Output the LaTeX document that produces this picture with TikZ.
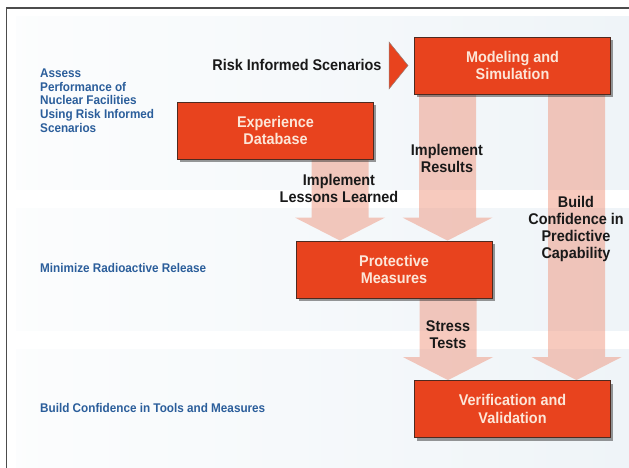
\documentclass[tikz,border=0pt]{standalone}
\usepackage{fontspec}
\setmainfont{Liberation Sans}[FakeStretch=0.93]
\usetikzlibrary{calc,shadows}
\definecolor{boxred}{HTML}{E8431E}
\definecolor{boxedge}{HTML}{4E2A20}
\definecolor{boxtext}{HTML}{FCE6D8}
\definecolor{sideblue}{HTML}{2B5E9B}
\definecolor{bandmid}{HTML}{BDD3E2}
\definecolor{arrsalmon}{HTML}{EE8A6F}
\pgfdeclarelayer{bands}
\pgfdeclarelayer{arrows}
\pgfsetlayers{bands,arrows,main}
\begin{document}
\begin{tikzpicture}[x=1pt,y=-1pt,
  box/.style={draw=boxedge, line width=.8pt, fill=boxred, minimum width=196pt, minimum height=57pt, inner sep=0pt, text=boxtext, align=center, font=\bfseries\fontsize{15.5}{17.5}\selectfont, drop shadow={shadow xshift=2.5pt, shadow yshift=-3pt, fill=black!80, opacity=.5}},
  lab/.style={inner sep=0pt, text=black!90, align=center, font=\bfseries\fontsize{15.5}{17}\selectfont},
  side/.style={inner sep=0pt, anchor=west, text=sideblue, align=left, font=\bfseries\fontsize{12.6}{13.7}\selectfont},
  band/.style={left color=white!95!bandmid, middle color=bandmid, right color=white!75!bandmid},
  bigarr/.style={fill=arrsalmon, to path={let \p1=(\tikztostart), \p2=(\tikztotarget) in (\x1-28.5pt,\y1) -- (\x1+28.5pt,\y1) -- (\x1+28.5pt,\y2+23pt) -- (\x1+45pt,\y2+23pt) -- (\x1,\y2) -- (\x1-45pt,\y2+23pt) -- (\x1-28.5pt,\y2+23pt) -- cycle}}]
\useasboundingbox (0,0) rectangle (629,468);
\begin{pgfonlayer}{bands}
\shade[band] (16,17) rectangle (640,189);
\shade[band] (16,208) rectangle (640,330);
\shade[band] (16,349) rectangle (640,468);
\draw[black!70, line width=1.2pt] (6.5,468) -- (6.5,8) -- (629,8);
\end{pgfonlayer}
\node[box] (mods) at (512.5,65.5) {Modeling and\\Simulation};
\node[box] (expd) at (275.5,130.5) {Experience\\Database};
\node[box] (prot) at (394,269.5) {Protective\\Measures};
\node[box] (veri) at (512.5,409) {Verification and\\Validation};
\coordinate (c0) at (340,0);
\coordinate (c1) at (447.5,0);
\coordinate (c2) at (448,0);
\coordinate (c3) at (576.5,0);
\begin{pgfonlayer}{arrows}
\begin{scope}[transparency group, opacity=.45]
\path[bigarr] (expd.center -| c0) to (prot.north -| c0);
\path[bigarr] (mods.center -| c1) to (prot.north -| c1);
\path[bigarr] (prot.center -| c2) to (veri.north -| c2);
\path[bigarr] (mods.center -| c3) to (veri.north -| c3);
\end{scope}
\end{pgfonlayer}
\node[lab] (risk) at (297,65) {Risk Informed Scenarios};
\fill[boxred, draw=boxedge!60, line width=.5pt] (389,42) -- (408,65.5) -- (389,89) -- cycle;
\node[lab] (impres) at (447,158) {Implement\\Results};
\node[lab] (impless) at (339,188) {Implement\\Lessons Learned};
\node[lab] (bcpc) at (576,229) {Build\\Confidence in\\Predictive\\Capability};
\node[lab] (stress) at (448,334.5) {Stress\\Tests};
\node[side] (assess) at (40,100.5) {Assess\\Performance of\\Nuclear Facilities\\Using Risk Informed\\Scenarios};
\node[side] (minim) at (40,268) {Minimize Radioactive Release};
\node[side] (bctm) at (40,408) {Build Confidence in Tools and Measures};
\end{tikzpicture}
\end{document}
